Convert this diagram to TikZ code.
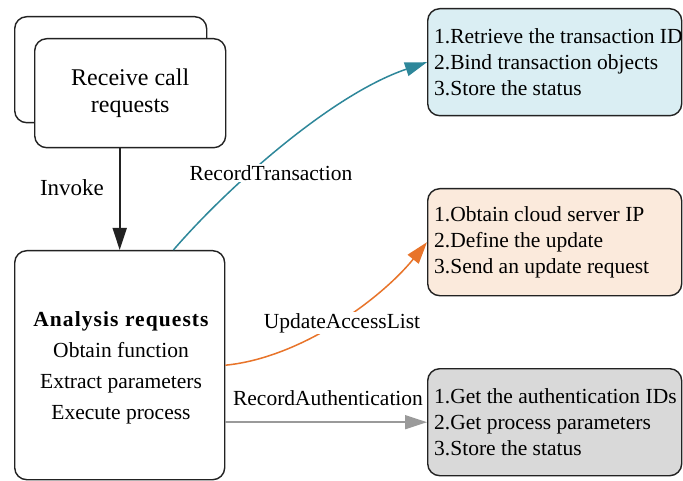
\documentclass[tikz,border=0pt]{standalone}
\usepackage{fontspec}
\setmainfont{Liberation Serif}
\usetikzlibrary{arrows.meta}
\definecolor{bluefill}{HTML}{DAEEF3}
\definecolor{orangefill}{HTML}{FBEADC}
\definecolor{grayfill}{HTML}{D9D9D9}
\definecolor{bluearr}{HTML}{2E879A}
\definecolor{orangearr}{HTML}{E8742A}
\definecolor{grayarr}{HTML}{9A9A9A}
\definecolor{edgeblack}{HTML}{222222}
\begin{document}
\begin{tikzpicture}[x=1pt,y=-1pt,
  box/.style={draw=edgeblack, line width=1.4pt, rounded corners=12pt, inner sep=0pt},
  listbox/.style={box, minimum width=254, minimum height=107, anchor=north west},
  listtext/.style={anchor=west, align=left, inner sep=0pt, font=\fontsize{21.5}{26}\selectfont},
  lbl/.style={font=\fontsize{21.5}{26}\selectfont, inner sep=1pt},
  conn/.style={line width=1.5pt, -{Triangle[length=22pt,width=14pt]}}]
\useasboundingbox (0,0) rectangle (683,481);
\fill[white] (0,0) rectangle (683,481);
% receive call boxes
\node[box, minimum width=192, minimum height=106, anchor=north west] (back) at (14,16) {};
\node[box, fill=white, minimum width=191, minimum height=109, anchor=north west,
  align=center, font=\fontsize{24}{27}\selectfont] (recv) at (34,38) {Receive call\\requests};
% analysis box
\node[box, minimum width=210, minimum height=229, anchor=north west] (ana) at (14,250) {};
\node[align=center, inner sep=0pt, font=\fontsize{21.5}{31}\selectfont] (anatext) at (121,368)
  {{\bfseries\addfontfeature{LetterSpace=5}Analysis requests}\\Obtain function\\Extract parameters\\Execute process};
% list boxes
\node[listbox, fill=bluefill] (tx) at (427,8) {};
\node[listtext] (txt) at (434,62)
  {1.Retrieve the transaction ID\\2.Bind transaction objects\\3.Store the status};
\node[listbox, fill=orangefill] (upd) at (427,188) {};
\node[listtext] (updt) at (434,242)
  {1.Obtain cloud server IP\\2.Define the update\\3.Send an update request};
\node[listbox, fill=grayfill] (auth) at (427,368) {};
\node[listtext] (autht) at (434,422)
  {1.Get the authentication IDs\\2.Get process parameters\\3.Store the status};
% connectors
\draw[conn, edgeblack, line width=1.9pt] (ana.north |- recv.south) -- (ana.north);
\node[lbl, font=\fontsize{23}{26}\selectfont] (inv) at (72,188) {Invoke};
\draw[conn, bluearr] (ana.65) .. controls (225,190) and (330,95) .. (tx.west);
\node[lbl, fill=white] (l1) at (271,173) {RecordTransaction};
\draw[conn, orangearr] (ana.east) .. controls (300,358) and (380,300) .. (upd.west);
\node[lbl, fill=white] (l2) at (342,323) {UpdateAccessList};
\draw[conn, grayarr] (ana.east |- auth.west) -- (auth.west);
\node[lbl] (l3) at (328,398) {RecordAuthentication};
\end{tikzpicture}
\end{document}
